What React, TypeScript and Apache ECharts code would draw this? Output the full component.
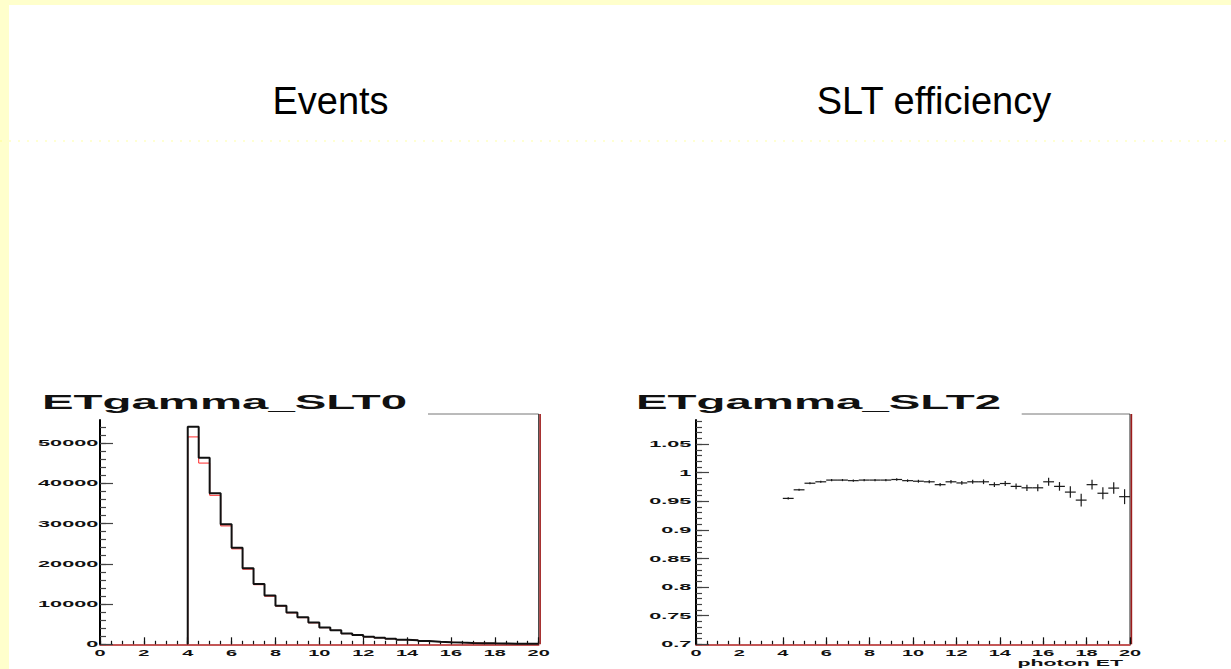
import { useEffect, useRef } from "react";
import * as echarts from "echarts";

// Photon ET binning: low edges of the 0.5-wide bins from 4 to 20
const binLow = [
  4, 4.5, 5, 5.5, 6, 6.5, 7, 7.5, 8, 8.5, 9, 9.5, 10, 10.5, 11, 11.5,
  12, 12.5, 13, 13.5, 14, 14.5, 15, 15.5, 16, 16.5, 17, 17.5, 18, 18.5, 19, 19.5,
];
const binWidth = 0.5;

// ETgamma_SLT0: all photons (black) and photons passing SLT (red)
const eventsAll = [
  54000, 46300, 37500, 29800, 24000, 18900, 15000, 12100, 9600, 7900, 6700, 5400,
  4200, 3500, 2700, 2300, 1900, 1650, 1400, 1150, 1000, 800, 650, 520,
  420, 340, 280, 230, 190, 160, 130, 110,
];
const eventsSLT = [
  51500, 45000, 37000, 29400, 23700, 18650, 14800, 11950, 9480, 7800, 6620, 5330,
  4140, 3450, 2650, 2260, 1870, 1620, 1380, 1130, 980, 780, 635, 505,
  413, 332, 270, 220, 186, 154, 127, 106,
];

// ETgamma_SLT2: SLT efficiency per bin with its uncertainty
const effValue = [
  0.955, 0.97, 0.9815, 0.984, 0.987, 0.987, 0.986, 0.987, 0.987, 0.987, 0.988, 0.986,
  0.985, 0.984, 0.979, 0.984, 0.982, 0.984, 0.984, 0.979, 0.981, 0.976, 0.9735, 0.9735,
  0.984, 0.976, 0.966, 0.952, 0.979, 0.964, 0.973, 0.958,
];
const effError = [
  0.0008, 0.0008, 0.0008, 0.0008, 0.0008, 0.0008, 0.001, 0.001, 0.001, 0.001, 0.0012, 0.0012,
  0.0015, 0.0015, 0.0018, 0.002, 0.0022, 0.0025, 0.003, 0.003, 0.0035, 0.004, 0.0045, 0.005,
  0.006, 0.0065, 0.009, 0.01, 0.0075, 0.0095, 0.009, 0.012,
];

// Axis ticks and labels
const xTickValues = [0, 2, 4, 6, 8, 10, 12, 14, 16, 18, 20];
const xTickLabels = ["0", "2", "4", "6", "8", "10", "12", "14", "16", "18", "20"];
const eventsTickValues = [0, 10000, 20000, 30000, 40000, 50000];
const eventsTickLabels = ["0", "10000", "20000", "30000", "40000", "50000"];
const effTickValues = [0.7, 0.75, 0.8, 0.85, 0.9, 0.95, 1, 1.05];
const effTickLabels = ["0.7", "0.75", "0.8", "0.85", "0.9", "0.95", "1", "1.05"];

const X_MAX = 20;
const EVENTS_MAX = 55700;
const EFF_MIN = 0.7;
const EFF_MAX = 1.092;

function steps(from: number, to: number, step: number): number[] {
  const out: number[] = [];
  const n = Math.round((to - from) / step);
  for (let i = 0; i <= n; i++) out.push(Math.round((from + i * step) * 10000) / 10000);
  return out;
}

const xMinor = steps(0, 20, 0.5);
const eventsMinor = steps(0, 54000, 2000);
const effMinor = steps(0.7, 1.09, 0.01);

function histPoints(values: number[]): number[][] {
  const pts: number[][] = [[binLow[0], 0]];
  values.forEach((v, i) => pts.push([binLow[i], v]));
  pts.push([binLow[binLow.length - 1] + binWidth, values[values.length - 1]]);
  return pts;
}

const AXIS_RED = "#b01f1f";
const LABEL_FONT = 'bold 9.5px "Liberation Sans", Arial, sans-serif';

function xAxisPair(gridIndex: number) {
  return [
    {
      type: "value", gridIndex, min: 0, max: X_MAX, interval: 2, position: "bottom",
      axisLine: { show: true, onZero: false, lineStyle: { color: AXIS_RED, width: 1.6 } },
      axisTick: { show: true, inside: true, length: 7, lineStyle: { color: "#111", width: 1.2 } },
      axisLabel: { show: false }, splitLine: { show: false },
    },
    {
      type: "value", gridIndex, min: 0, max: X_MAX, position: "bottom",
      axisLine: { show: false, onZero: false },
      axisTick: { show: true, inside: true, length: 3.5, customValues: xMinor, lineStyle: { color: "#111", width: 1.2 } },
      axisLabel: { show: false }, splitLine: { show: false },
    },
  ];
}

function yAxisPair(gridIndex: number, min: number, max: number, major: number[], minor: number[]) {
  return [
    {
      type: "value", gridIndex, min, max, position: "left",
      axisLine: { show: true, onZero: false, lineStyle: { color: "#000", width: 2 } },
      axisTick: { show: true, inside: true, length: 13, customValues: major, lineStyle: { color: "#444", width: 1.2 } },
      axisLabel: { show: false }, splitLine: { show: false },
    },
    {
      type: "value", gridIndex, min, max, position: "left",
      axisLine: { show: false, onZero: false },
      axisTick: { show: true, inside: true, length: 6, customValues: minor, lineStyle: { color: "#444", width: 1.2 } },
      axisLabel: { show: false }, splitLine: { show: false },
    },
  ];
}

export default function App() {
  const ref = useRef<HTMLDivElement>(null);

  useEffect(() => {
    const chart = echarts.init(ref.current!, null, { renderer: "svg" });

    chart.setOption({
      animation: false,
      backgroundColor: "#ffffff",
      grid: [
        { left: 100, top: 420, width: 438.7, height: 224.3, outerBoundsMode: "none" },
        { left: 696, top: 420, width: 434, height: 224.3, outerBoundsMode: "none" },
      ],
      xAxis: [...xAxisPair(0), ...xAxisPair(1)],
      yAxis: [
        ...yAxisPair(0, 0, EVENTS_MAX, eventsTickValues, eventsMinor),
        ...yAxisPair(1, EFF_MIN, EFF_MAX, effTickValues, effMinor),
      ],
      series: [
        {
          name: "SLT", type: "line", xAxisIndex: 0, yAxisIndex: 0, step: "end",
          showSymbol: false, data: histPoints(eventsSLT),
          lineStyle: { color: "#ff2a2a", width: 1 }, z: 2,
        },
        {
          name: "all", type: "line", xAxisIndex: 0, yAxisIndex: 0, step: "end",
          showSymbol: false, data: histPoints(eventsAll),
          lineStyle: { color: "#111111", width: 2 }, z: 3,
        },
        {
          name: "efficiency", type: "custom", xAxisIndex: 2, yAxisIndex: 2,
          encode: { x: 0, y: 1 },
          data: binLow.map((lo, i) => [lo + binWidth / 2, effValue[i], effError[i]]),
          renderItem: (_params: any, api: any) => {
            const x = api.value(0);
            const y = api.value(1);
            const e = api.value(2);
            const l = api.coord([x - binWidth / 2, y]);
            const r = api.coord([x + binWidth / 2, y]);
            const t = api.coord([x, y + e]);
            const b = api.coord([x, y - e]);
            const style = { stroke: "#1a1a1a", lineWidth: 1.2 };
            return {
              type: "group",
              children: [
                { type: "line", shape: { x1: l[0], y1: l[1], x2: r[0], y2: r[1] }, style },
                { type: "line", shape: { x1: t[0], y1: t[1] - 0.6, x2: b[0], y2: b[1] + 0.6 }, style },
              ],
            };
          },
          z: 3,
        },
      ],
    });

    const px = (axis: number, v: number) => chart.convertToPixel({ xAxisIndex: axis }, v) as number;
    const py = (axis: number, v: number) => chart.convertToPixel({ yAxisIndex: axis }, v) as number;

    const label = (text: string, x: number, y: number, align: string, scaleX: number, font = LABEL_FONT) => ({
      type: "text", x, y, scaleX, silent: true,
      style: {
        text, x: 0, y: 0, font, fill: "#111",
        align, textAlign: align, verticalAlign: "middle", textVerticalAlign: "middle",
      },
    });

    const elements: any[] = [
      // slide border
      { type: "rect", shape: { x: 0, y: 0, width: 1231, height: 5 }, style: { fill: "#ffffcc" }, silent: true },
      { type: "rect", shape: { x: 0, y: 0, width: 9, height: 669 }, style: { fill: "#ffffcc" }, silent: true },
      {
        type: "line", shape: { x1: 0, y1: 141, x2: 1231, y2: 141 }, silent: true,
        style: { stroke: "#ffff66", lineWidth: 1.5, lineDash: [2, 7], opacity: 0.4 },
      },
      // column headings
      {
        type: "text", x: 330.5, y: 100.5, silent: true,
        style: {
          text: "Events", x: 0, y: 0, font: '38px "Liberation Sans", Arial, sans-serif', fill: "#000",
          align: "center", textAlign: "center", verticalAlign: "middle", textVerticalAlign: "middle",
        },
      },
      {
        type: "text", x: 934, y: 100.5, silent: true,
        style: {
          text: "SLT efficiency", x: 0, y: 0, font: '38px "Liberation Sans", Arial, sans-serif', fill: "#000",
          align: "center", textAlign: "center", verticalAlign: "middle", textVerticalAlign: "middle",
        },
      },
    ];

    const panels = [
      { xa: 0, ya: 0, title: "ETgamma_SLT0", titleX: 42, lineFrom: 428, ticks: eventsTickValues, labels: eventsTickLabels, gap: 1.7, axisTitle: "" },
      { xa: 2, ya: 2, title: "ETgamma_SLT2", titleX: 636, lineFrom: 1021.7, ticks: effTickValues, labels: effTickLabels, gap: 4.7, axisTitle: "photon ET" },
    ];

    panels.forEach((p) => {
      const x0 = px(p.xa, 0);
      const x20 = px(p.xa, X_MAX);
      const yBottom = py(p.ya, p.ya === 0 ? 0 : EFF_MIN);
      const yTop = 414;
      elements.push(
        label(p.title, p.titleX, 402.2, "left", 2.37, 'bold 20px "Liberation Sans", Arial, sans-serif'),
        { type: "line", shape: { x1: p.lineFrom, y1: yTop, x2: x20, y2: yTop }, style: { stroke: "#777", lineWidth: 1 }, silent: true },
        { type: "line", shape: { x1: x20, y1: yTop, x2: x20, y2: yBottom }, style: { stroke: "#222", lineWidth: 1 }, silent: true },
        { type: "line", shape: { x1: x20 + 1.4, y1: yTop, x2: x20 + 1.4, y2: yBottom }, style: { stroke: "#9e1b1b", lineWidth: 1.6 }, silent: true },
      );
      xTickValues.forEach((v, i) => {
        elements.push(label(xTickLabels[i], px(p.xa, v), yBottom + 8.6, "center", 2.1));
      });
      p.ticks.forEach((v, i) => {
        elements.push(label(p.labels[i], x0 - p.gap, py(p.ya, v), "right", 2.28));
      });
      if (p.axisTitle) {
        elements.push(label(p.axisTitle, x20 - 7, yBottom + 18.8, "right", 2.25));
      }
    });

    chart.setOption({ graphic: elements });

    return () => chart.dispose();
  }, []);

  return (
    <div
      ref={ref}
      style={{ position: "absolute", left: 0, top: 0, width: 1231, height: 669, background: "#ffffff" }}
    />
  );
}
